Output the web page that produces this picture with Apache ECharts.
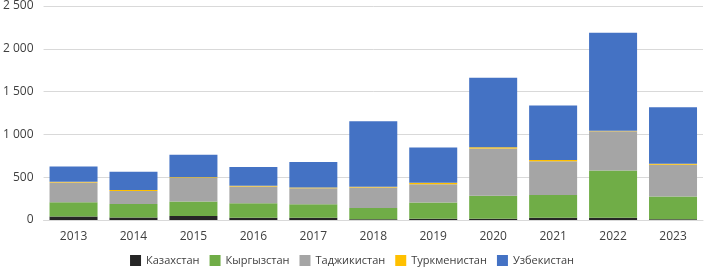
<!DOCTYPE html>
<html>
<head>
<meta charset="utf-8">
<script src="https://cdn.jsdelivr.net/npm/echarts@6/dist/echarts.min.js"></script>
<style>
html,body{margin:0;padding:0;background:#fff;}
#chart{width:704px;height:272px;}
</style>
</head>
<body>
<div id="chart"></div>
<script>
var years = ['2013','2014','2015','2016','2017','2018','2019','2020','2021','2022','2023'];
// значения по странам
var kaz = [40, 28, 47, 25, 25, 10, 15, 15, 25, 25, 10];
var kgz = [166, 160, 168, 171, 159, 131, 188, 267, 268, 554, 264];
var tjk = [232, 152, 275, 195, 188, 238, 216, 552, 392, 458, 372];
var tkm = [8, 10, 10, 10, 8, 10, 15, 15, 15, 6, 10];
var uzb = [180, 213, 263, 217, 297, 765, 414, 814, 638, 1145, 662];
var yTicks = [0, 500, 1000, 1500, 2000, 2500];

var names = ['Казахстан','Кыргызстан','Таджикистан','Туркменистан','Узбекистан'];
var colors = ['#262626','#70AD47','#A5A5A5','#FFC000','#4472C4'];
var seriesData = [kaz, kgz, tjk, tkm, uzb];

var chart = echarts.init(document.getElementById('chart'));
var series = [];
for(var i=0;i<names.length;i++){
	series.push({
		name:names[i],
		type:'bar',
		stack:'total',
		barWidth:48,
		itemStyle:{color:colors[i]},
		data:seriesData[i]
	});
}
chart.setOption({
	animation:false,
	textStyle:{fontFamily:'Open Sans'},
	color:colors,
	legend:{
		data:names,
		bottom:1,
		left:'center',
		itemWidth:11,
		itemHeight:11,
		itemGap:10,
		icon:'rect',
		textStyle:{fontSize:11,color:'#404040'}
	},
	grid:{
		top:5,
		bottom:52,
		left:37,
		right:1
	},
	xAxis:{
		type:'category',
		data:years,
		axisTick:{show:false},
		axisLine:{lineStyle:{color:'#D9D9D9'}},
		axisLabel:{fontSize:12,color:'#404040',margin:11}
	},
	yAxis:{
		type:'value',
		min:yTicks[0],
		max:yTicks[yTicks.length-1],
		interval:500,
		axisLine:{show:false},
		axisTick:{show:false},
		splitLine:{lineStyle:{color:'#D9D9D9'}},
		axisLabel:{
			fontSize:12,
			color:'#404040',
			margin:10,
			formatter:function(v){
				return String(v).replace(/\B(?=(\d{3})+(?!\d))/g,' ');
			}
		}
	},
	series:series
});
</script>
</body>
</html>
